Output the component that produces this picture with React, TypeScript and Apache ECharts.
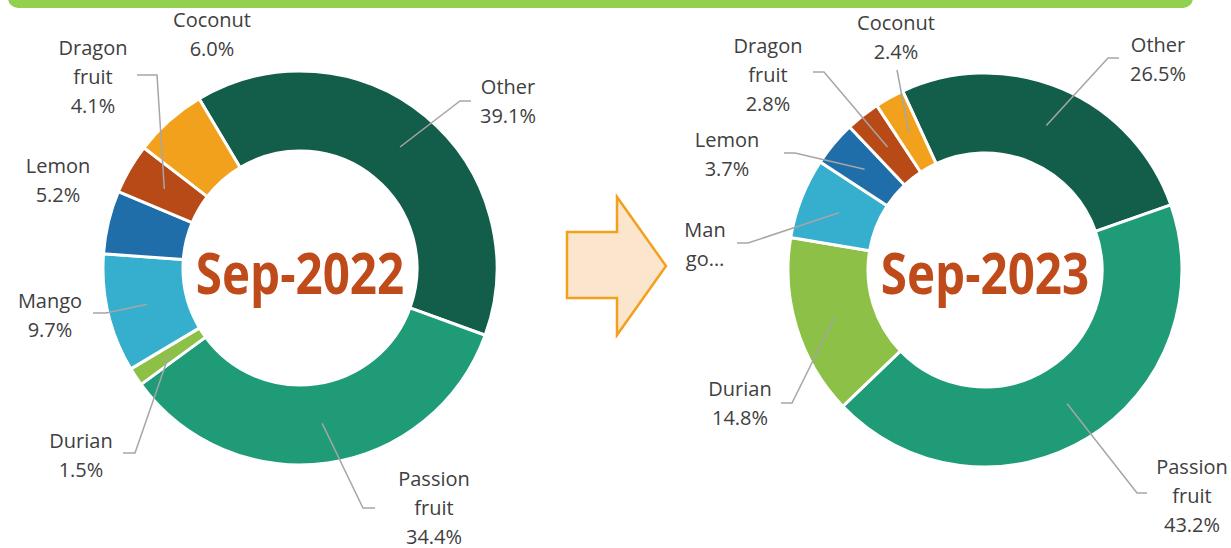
import React, { useEffect, useRef } from "react";
import * as echarts from "echarts";

// ---------- data ----------
const categories = ["Other", "Passion fruit", "Durian", "Mango", "Lemon", "Dragon fruit", "Coconut"];
const values2022 = [39.1, 34.4, 1.5, 9.7, 5.2, 4.1, 6.0];
const values2023 = [26.5, 43.2, 14.8, 6.6, 3.7, 2.8, 2.4];
const periodLabels = ["Sep-2022", "Sep-2023"];
const displayNames2022 = ["Other", "Passion\nfruit", "Durian", "Mango", "Lemon", "Dragon\nfruit", "Coconut"];
const displayNames2023 = ["Other", "Passion\nfruit", "Durian", "Man\ngo…", "Lemon", "Dragon\nfruit", "Coconut"];
const showPercent2022 = [true, true, true, true, true, true, true];
const showPercent2023 = [true, true, true, false, true, true, true];

// ---------- styles / layout ----------
const sliceColors = ["#135e4a", "#1f9b78", "#8cc046", "#36afcf", "#1f6ea9", "#b84a18", "#f2a11d"];
const W = 1231;
const H = 548;
const R_IN = 117;
const R_OUT = 197;
const R_LINE = 157;

type PieLayout = {
  center: [number, number];
  startAngle: number;
  values: number[];
  names: string[];
  pct: boolean[];
  labelPos: [number, number][];
  leaders: ([number, number][] | null)[];
  title: string;
  titleY: number;
};

const pies: PieLayout[] = [
  {
    center: [300, 268],
    startAngle: 120.8,
    values: values2022,
    names: displayNames2022,
    pct: showPercent2022,
    labelPos: [[508, 101], [434, 507], [81, 455], [50, 315], [58, 180], [93, 76], [212, 34]],
    leaders: [
      [[460, 101], [471, 101]],
      [[363, 508], [375, 508]],
      [[135, 453], [123, 453]],
      [[106, 313], [93, 313]],
      null,
      [[157, 75], [137, 75]],
      null,
    ],
    title: periodLabels[0],
    titleY: 272,
  },
  {
    center: [985, 270],
    startAngle: 114.7,
    values: values2023,
    names: displayNames2023,
    pct: showPercent2023,
    labelPos: [[1158, 59], [1192, 495], [740, 403], [705, 244], [727, 154], [768, 74], [896, 37]],
    leaders: [
      [[1108, 58], [1119, 58]],
      [[1137, 493], [1147, 493]],
      [[792, 403], [781, 403]],
      [[748, 243], [737, 243]],
      [[795, 153], [784, 153]],
      [[824, 72], [813, 72]],
      [[897, 70], [897, 70]],
    ],
    title: periodLabels[1],
    titleY: 272,
  },
];

function midPoint(p: PieLayout, idx: number): [number, number] {
  const total = p.values.reduce((a, b) => a + b, 0);
  let cum = 0;
  for (let i = 0; i < idx; i++) cum += p.values[i];
  const startCW = 90 - p.startAngle; // degrees clockwise from 12 o'clock
  const theta = ((startCW + ((cum + p.values[idx] / 2) / total) * 360) * Math.PI) / 180;
  return [p.center[0] + R_LINE * Math.sin(theta), p.center[1] - R_LINE * Math.cos(theta)];
}

export default function App() {
  const ref = useRef<HTMLDivElement>(null);

  useEffect(() => {
    document.body.style.margin = "0";
    if (!ref.current) return;
    const chart = echarts.init(ref.current, null, { renderer: "svg" });

    const series = pies.map((p) => ({
      type: "pie",
      center: p.center,
      radius: [R_IN, R_OUT],
      startAngle: p.startAngle,
      clockwise: true,
      avoidLabelOverlap: false,
      silent: true,
      itemStyle: { borderColor: "#ffffff", borderWidth: 3 },
      label: {
        show: true,
        position: "outside",
        fontFamily: "Open Sans",
        fontSize: 20,
        lineHeight: 29,
        color: "#404040",
        align: "center",
        formatter: (params: any) => {
          const i = params.dataIndex;
          return p.pct[i] ? `${p.names[i]}\n${p.values[i].toFixed(1)}%` : p.names[i];
        },
      },
      labelLine: { show: false },
      labelLayout: (params: any) => {
        const pos = p.labelPos[params.dataIndex];
        return { x: pos[0], y: pos[1], align: "center", verticalAlign: "middle" };
      },
      data: categories.map((c, i) => ({
        name: c,
        value: p.values[i],
        itemStyle: { color: sliceColors[i] },
      })),
    }));

    const leaderLines: any[] = [];
    pies.forEach((p) => {
      p.leaders.forEach((ld, i) => {
        if (!ld) return;
        leaderLines.push({
          type: "polyline",
          z: 100,
          silent: true,
          shape: { points: [midPoint(p, i), ld[0], ld[1]] },
          style: { stroke: "#a6a6a6", lineWidth: 1.5, fill: null },
        });
      });
    });

    const graphic: any[] = [
      {
        type: "rect",
        shape: { x: 8, y: -20, width: 1185, height: 28, r: 10 },
        style: { fill: "#92d050" },
        silent: true,
      },
      {
        type: "polygon",
        shape: {
          points: [
            [567, 232],
            [617, 232],
            [617, 197],
            [666, 266],
            [617, 335],
            [617, 298],
            [567, 298],
          ],
        },
        style: { fill: "#fce5cd", stroke: "#f2a11d", lineWidth: 2.5 },
        silent: true,
      },
      ...leaderLines,
      ...pies.map((p) => ({
        type: "text",
        x: p.center[0],
        y: p.titleY,
        scaleX: 0.82,
        z: 100,
        style: {
          text: p.title,
          fontFamily: "Open Sans",
          fontWeight: "bold",
          fontSize: 58,
          fill: "#bf4b1b",
          align: "center",
          verticalAlign: "middle",
        },
        silent: true,
      })),
    ];

    chart.setOption({
      animation: false,
      backgroundColor: "#ffffff",
      series,
      graphic,
    });

    return () => chart.dispose();
  }, []);

  return <div ref={ref} style={{ width: W, height: H }} />;
}
